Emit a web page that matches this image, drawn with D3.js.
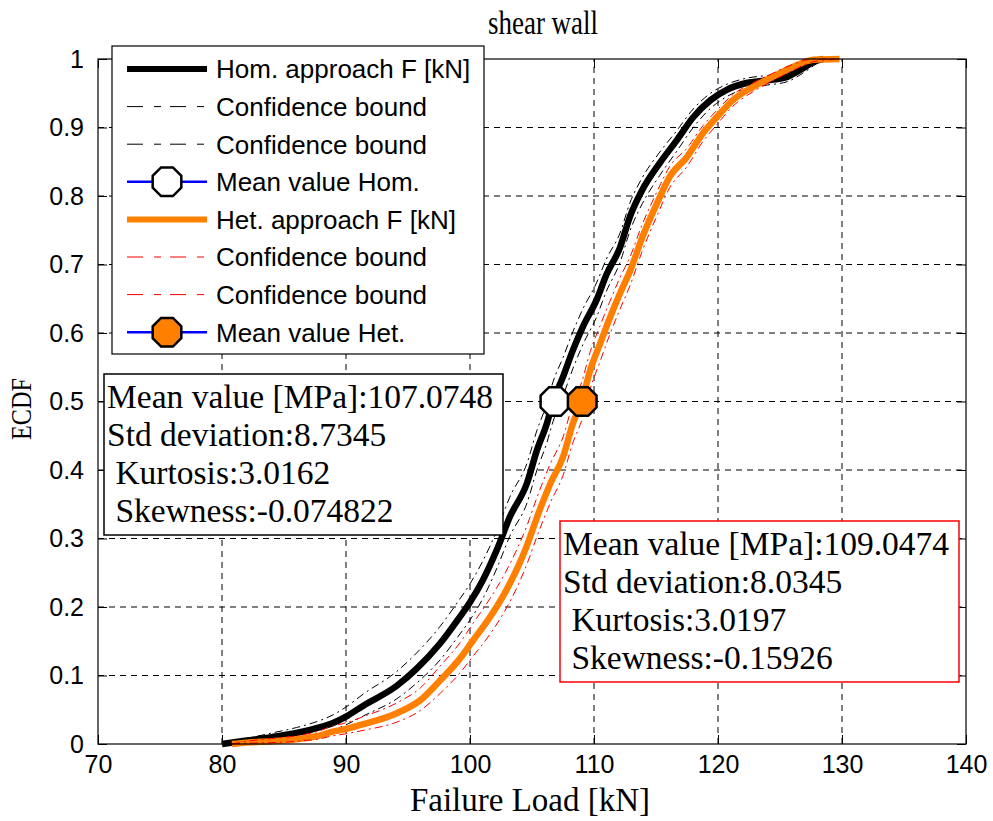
<!DOCTYPE html>
<html>
<head>
<meta charset="utf-8">
<script src="https://cdn.jsdelivr.net/npm/d3@7"></script>
<style>
  body { margin: 0; background: #fff; }
  svg { display: block; }
</style>
</head>
<body>
<div id="chart"></div>
<script>
// x ticks / y ticks
const xTicks = [70, 80, 90, 100, 110, 120, 130, 140];
const yTicks = [0, 0.1, 0.2, 0.3, 0.4, 0.5, 0.6, 0.7, 0.8, 0.9, 1];

// Hom. approach ECDF
const homX  = [80.0, 82, 84, 86, 88, 89, 90, 91.4, 94.1, 95.7, 97.6, 99.0, 100, 101.0, 102.2, 103.2, 104.6, 105.4, 106.2, 106.7, 107.5, 108.3, 109.1, 110.2, 111.0, 112.1, 112.9, 113.9, 115.3, 116.7, 118.0, 119.4, 120.7, 122.3, 124.0, 125.6, 126.9, 127.7, 128.5];
const homF  = [0, .005, .01, .016, .025, .031, .04, .056, .085, .11, .147, .181, .207, .238, .285, .331, .381, .429, .468, .5, .536, .575, .609, .648, .685, .725, .77, .809, .848, .882, .915, .94, .955, .965, .969, .974, .987, .996, 1];
const homHi = [0, .008, .016, .024, .035, .043, .054, .073, .106, .133, .172, .207, .234, .266, .313, .36, .41, .458, .497, .529, .564, .602, .635, .673, .708, .746, .79, .827, .864, .896, .927, .95, .963, .972, .976, .98, .992, 1, 1];
const homLo = [0, .002, .005, .009, .016, .021, .028, .041, .066, .089, .123, .156, .181, .211, .258, .303, .352, .4, .44, .471, .508, .548, .583, .623, .661, .703, .749, .789, .83, .866, .9, .928, .945, .957, .962, .967, .98, .99, 1];

// Het. approach ECDF
const hetX  = [80.8, 82, 84, 86, 88, 88.7, 90, 91.4, 94.1, 96.0, 97.6, 99.2, 100.2, 101.6, 102.7, 103.8, 104.6, 105.4, 106.5, 107.5, 108.3, 109.0, 109.7, 110.5, 111.3, 112.1, 112.9, 113.9, 115.1, 116.1, 117.5, 118.8, 119.9, 121.2, 122.8, 124.4, 126.0, 127.7, 129.8];
const hetF  = [0, .002, .004, .007, .013, .017, .022, .029, .045, .064, .093, .125, .15, .185, .217, .256, .29, .331, .381, .419, .468, .5, .546, .585, .623, .658, .69, .74, .79, .828, .857, .892, .915, .94, .959, .974, .988, .999, 1];
const hetHi = [0, .004, .008, .012, .02, .025, .031, .04, .06, .082, .114, .148, .175, .212, .245, .285, .319, .36, .41, .448, .497, .528, .573, .611, .647, .681, .711, .759, .807, .843, .87, .903, .925, .948, .965, .979, .992, 1, 1];
const hetLo = [0, .001, .002, .004, .008, .011, .015, .02, .032, .049, .074, .104, .127, .16, .191, .229, .263, .303, .353, .392, .44, .472, .519, .559, .599, .635, .669, .72, .772, .812, .843, .88, .904, .931, .952, .968, .983, .996, 1];

// mean markers (as drawn)
const meanX = [106.85, 109.05];
const meanF = [0.5, 0.5];

const legendLabels = ["Hom. approach F [kN]", "Confidence bound", "Confidence bound", "Mean value Hom.",
                      "Het. approach F [kN]", "Confidence bound", "Confidence bound", "Mean value Het."];
const homStats = ["Mean value [MPa]:107.0748", "Std deviation:8.7345", "\u00a0Kurtosis:3.0162", "\u00a0Skewness:-0.074822"];
const hetStats = ["Mean value [MPa]:109.0474", "Std deviation:8.0345", "\u00a0Kurtosis:3.0197", "\u00a0Skewness:-0.15926"];

const W = 993, H = 821;
const ORANGE = "#ff8000";
const serif = "'Liberation Serif', 'Times New Roman', serif";
const sans = "'Liberation Sans', Arial, sans-serif";

const svg = d3.select("#chart").append("svg")
    .attr("width", W).attr("height", H);
svg.append("rect").attr("width", W).attr("height", H).attr("fill", "#fff");

const x = d3.scaleLinear().domain([70, 140]).range([98, 966]);
const y = d3.scaleLinear().domain([0, 1]).range([744, 59]);

// grid
const grid = svg.append("g").attr("stroke", "#000").attr("stroke-width", 1).attr("stroke-dasharray", "6,5");
xTicks.slice(1, -1).forEach(function(t) {
    grid.append("line").attr("x1", x(t)).attr("x2", x(t)).attr("y1", y(0)).attr("y2", y(1));
});
yTicks.slice(1, -1).forEach(function(t) {
    grid.append("line").attr("x1", x(70)).attr("x2", x(140)).attr("y1", y(t)).attr("y2", y(t));
});

function pts(xs, fs) { return xs.map(function(v, i) { return [v, fs[i]]; }); }
const line = d3.line().curve(d3.curveMonotoneX)
    .x(function(d) { return x(d[0]); }).y(function(d) { return y(d[1]); });

function octagon(cx, cy, r) {
    const p = d3.range(8).map(function(k) {
        const a = Math.PI / 8 + k * Math.PI / 4;
        return [cx + r * Math.cos(a), cy + r * Math.sin(a)];
    });
    return "M" + p.join("L") + "Z";
}

const plot = svg.append("g");
// hom
plot.append("path").attr("d", line(pts(homX, homF))).attr("fill", "none").attr("stroke", "#000").attr("stroke-width", 6.5).attr("stroke-linejoin", "round");
[homHi, homLo].forEach(function(b) {
    plot.append("path").attr("d", line(pts(homX, b))).attr("fill", "none").attr("stroke", "#000").attr("stroke-width", 1).attr("stroke-dasharray", "8,4,2,4");
});
plot.append("path").attr("d", octagon(x(meanX[0]), y(meanF[0]), 15.5)).attr("fill", "#fff").attr("stroke", "#000").attr("stroke-width", 2.5);
// het
plot.append("path").attr("d", line(pts(hetX, hetF))).attr("fill", "none").attr("stroke", ORANGE).attr("stroke-width", 6.5).attr("stroke-linejoin", "round");
[hetHi, hetLo].forEach(function(b) {
    plot.append("path").attr("d", line(pts(hetX, b))).attr("fill", "none").attr("stroke", "#ff0000").attr("stroke-width", 1).attr("stroke-dasharray", "8,4,2,4");
});
plot.append("path").attr("d", octagon(x(meanX[1]), y(meanF[1]), 15.5)).attr("fill", ORANGE).attr("stroke", "#000").attr("stroke-width", 2.5);

// axes
function styleAxis(g) {
    g.select(".domain").remove();
    g.selectAll("line").attr("stroke", "#000");
    g.selectAll("text").attr("font-family", sans).attr("font-size", 25).attr("fill", "#000");
}
svg.append("g").attr("transform", "translate(0," + y(0) + ")")
    .call(d3.axisBottom(x).tickValues(xTicks).tickSize(-9).tickPadding(11).tickFormat(d3.format("d")))
    .call(styleAxis);
svg.append("g").attr("transform", "translate(0," + y(1) + ")")
    .call(d3.axisTop(x).tickValues(xTicks).tickSize(-9).tickFormat(""))
    .call(styleAxis);
svg.append("g").attr("transform", "translate(" + x(70) + ",0)")
    .call(d3.axisLeft(y).tickValues(yTicks).tickSize(-9).tickPadding(14).tickFormat(d3.format("~g")))
    .call(styleAxis);
svg.append("g").attr("transform", "translate(" + x(140) + ",0)")
    .call(d3.axisRight(y).tickValues(yTicks).tickSize(-9).tickFormat(""))
    .call(styleAxis);
svg.append("rect").attr("x", x(70)).attr("y", y(1)).attr("width", x(140) - x(70)).attr("height", y(0) - y(1))
    .attr("fill", "none").attr("stroke", "#000").attr("stroke-width", 1.2);

// titles
svg.append("text").attr("x", 543).attr("y", 34).attr("text-anchor", "middle")
    .attr("font-family", serif).attr("font-size", 33).attr("textLength", 110).attr("lengthAdjust", "spacingAndGlyphs").text("shear wall");
svg.append("text").attr("x", 530).attr("y", 811).attr("text-anchor", "middle")
    .attr("font-family", serif).attr("font-size", 33).text("Failure Load [kN]");
svg.append("text").attr("transform", "translate(31,409) rotate(-90)").attr("text-anchor", "middle")
    .attr("font-family", serif).attr("font-size", 29).attr("textLength", 62).attr("lengthAdjust", "spacingAndGlyphs").text("ECDF");

// legend
const lg = svg.append("g");
lg.append("rect").attr("x", 112).attr("y", 46).attr("width", 372).attr("height", 308)
    .attr("fill", "#fff").attr("stroke", "#000").attr("stroke-width", 1.2);
legendLabels.forEach(function(lab, i) {
    const cy = 69 + i * 37.6;
    const k = i % 4;
    const het = i >= 4;
    if (k === 0) {
        lg.append("line").attr("x1", 127).attr("x2", 207).attr("y1", cy).attr("y2", cy)
            .attr("stroke", het ? ORANGE : "#000").attr("stroke-width", 6);
    } else if (k < 3) {
        lg.append("line").attr("x1", 127).attr("x2", 207).attr("y1", cy).attr("y2", cy)
            .attr("stroke", het ? "#ff0000" : "#000").attr("stroke-width", 1).attr("stroke-dasharray", "16,11,7,9");
    } else {
        lg.append("line").attr("x1", 127).attr("x2", 207).attr("y1", cy).attr("y2", cy)
            .attr("stroke", "#0000ff").attr("stroke-width", 2.5);
        lg.append("path").attr("d", octagon(167, cy, 15.5))
            .attr("fill", het ? ORANGE : "#fff").attr("stroke", "#000").attr("stroke-width", 2.5);
    }
    lg.append("text").attr("x", 216).attr("y", cy).attr("dy", "0.36em")
        .attr("font-family", sans).attr("font-size", 26).text(lab);
});

// stats boxes
function statBox(bx, by, bw, bh, color, lines, tx, ty) {
    const g = svg.append("g");
    g.append("rect").attr("x", bx).attr("y", by).attr("width", bw).attr("height", bh)
        .attr("fill", "#fff").attr("stroke", color).attr("stroke-width", 1.5);
    lines.forEach(function(t, i) {
        g.append("text").attr("x", tx).attr("y", ty + i * 38)
            .attr("font-family", serif).attr("font-size", 33.5).text(t);
    });
}
statBox(104, 374, 399, 161, "#000", homStats, 107, 408);
statBox(560, 521, 399, 161, "#ff0000", hetStats, 563, 555);
</script>
</body>
</html>
